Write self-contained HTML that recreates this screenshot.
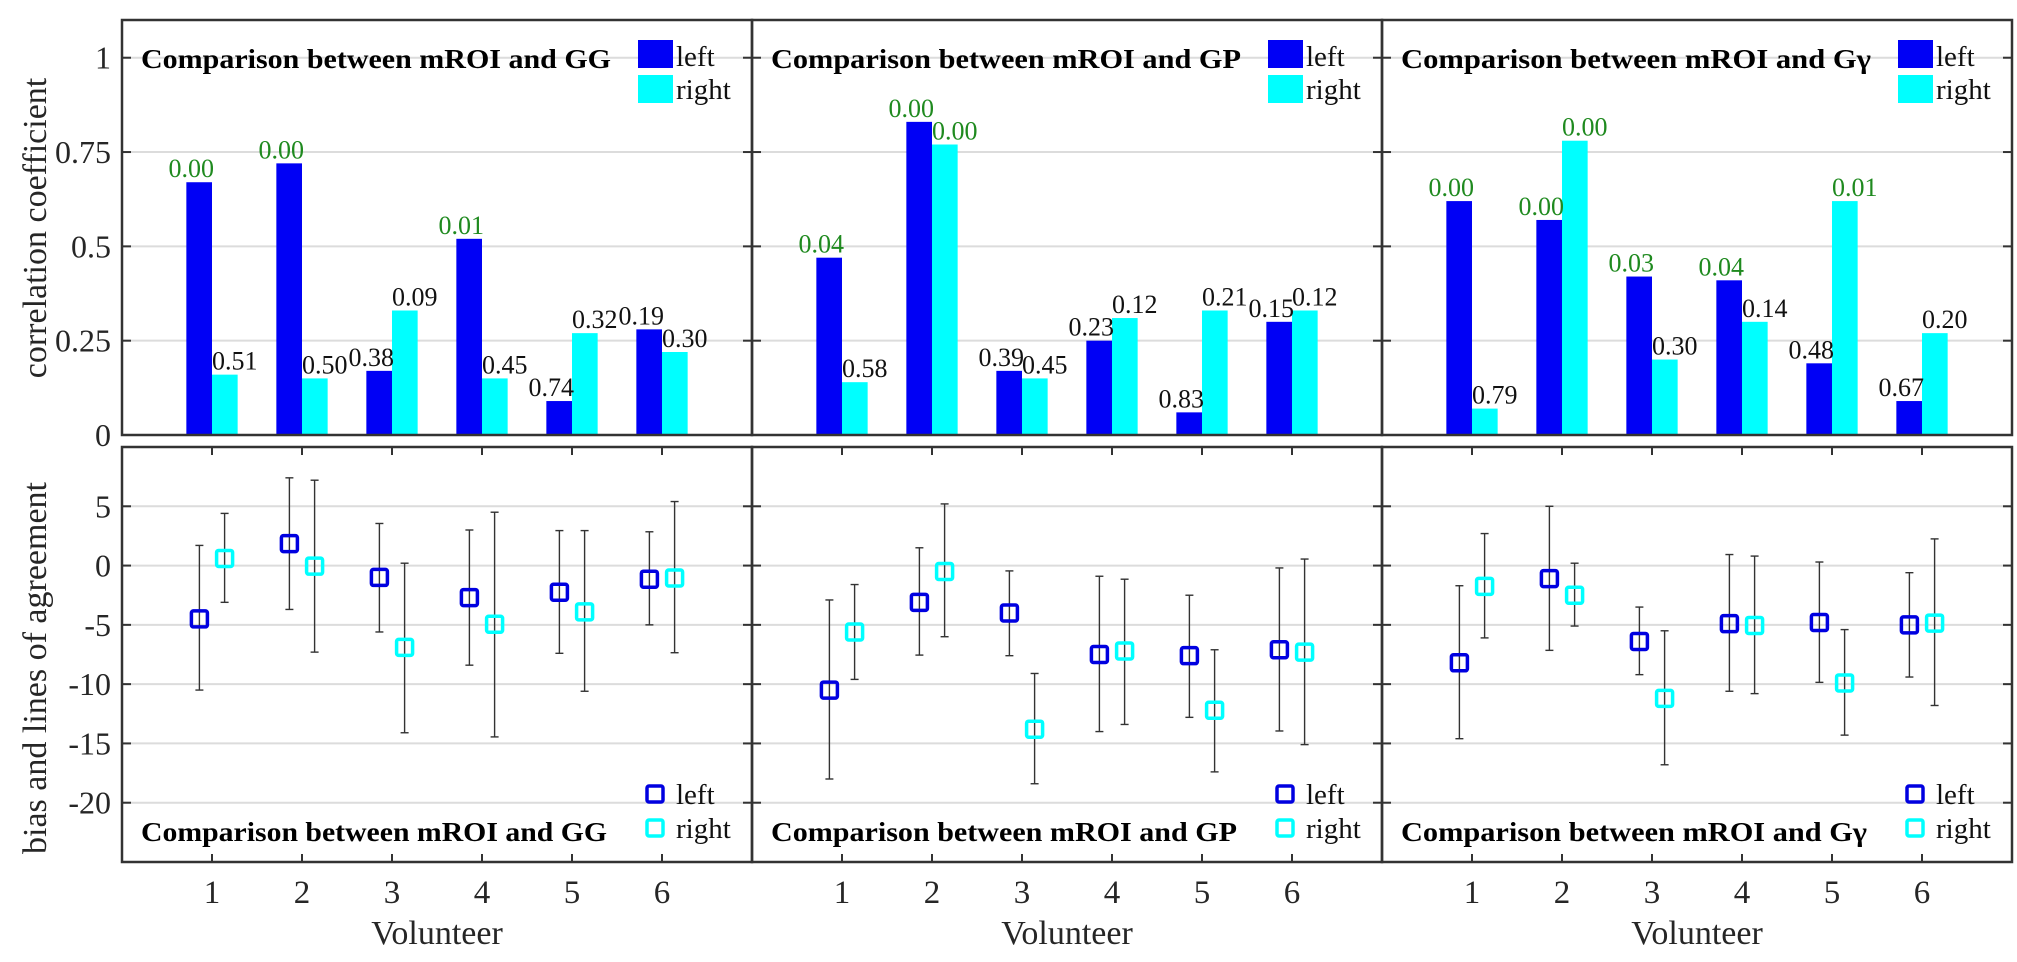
<!DOCTYPE html>
<html><head><meta charset="utf-8"><style>
html,body{margin:0;padding:0;background:#fff}
svg text{font-family:"Liberation Serif","DejaVu Serif",serif}
</style></head><body>
<svg id="fig" xmlns="http://www.w3.org/2000/svg" width="2017" height="957" viewBox="0 0 2017 957"></svg>
<script>
const categories = [1,2,3,4,5,6];
const panelTitles = ["Comparison between mROI and GG","Comparison between mROI and GP","Comparison between mROI and G\u03b3"];
// top: correlation coefficients
const corrLeft = [[0.67,0.72,0.17,0.52,0.09,0.28],[0.47,0.83,0.17,0.25,0.06,0.30],[0.62,0.57,0.42,0.41,0.19,0.09]];
const corrRight = [[0.16,0.15,0.33,0.15,0.27,0.22],[0.14,0.77,0.15,0.31,0.33,0.33],[0.07,0.78,0.20,0.30,0.62,0.27]];
const pLeft = [["0.00","0.00","0.38","0.01","0.74","0.19"],["0.04","0.00","0.39","0.23","0.83","0.15"],["0.00","0.00","0.03","0.04","0.48","0.67"]];
const pRight = [["0.51","0.50","0.09","0.45","0.32","0.30"],["0.58","0.00","0.45","0.12","0.21","0.12"],["0.79","0.00","0.30","0.14","0.01","0.20"]];
// bottom: bias and limits of agreement
const biasLeft = [[-4.5,1.85,-1.0,-2.7,-2.25,-1.15],[-10.5,-3.1,-4.0,-7.5,-7.6,-7.1],[-8.2,-1.1,-6.4,-4.9,-4.8,-5.0]];
const upLeft = [[1.7,7.4,3.55,3.0,2.95,2.85],[-2.9,1.5,-0.45,-0.9,-2.5,-0.2],[-1.7,5.0,-3.5,0.93,0.3,-0.6]];
const loLeft = [[-10.5,-3.7,-5.6,-8.4,-7.4,-5.0],[-18.0,-7.55,-7.6,-14.0,-12.8,-13.95],[-14.6,-7.15,-9.2,-10.6,-9.85,-9.4]];
const biasRight = [[0.6,-0.05,-6.9,-4.95,-3.9,-1.05],[-5.6,-0.5,-13.8,-7.2,-12.2,-7.3],[-1.75,-2.5,-11.2,-5.05,-9.9,-4.85]];
const upRight = [[4.4,7.2,0.2,4.5,2.95,5.4],[-1.6,5.2,-9.1,-1.15,-7.1,0.55],[2.7,0.2,-5.5,0.8,-5.4,2.25]];
const loRight = [[-3.1,-7.3,-14.1,-14.45,-10.6,-7.35],[-9.6,-6.0,-18.4,-13.4,-17.4,-15.1],[-6.1,-5.1,-16.8,-10.8,-14.3,-11.8]];
const topTicks = [0,0.25,0.5,0.75,1];
const topTickLabels = ["0","0.25","0.5","0.75","1"];
const botTicks = [5,0,-5,-10,-15,-20];
const botTickLabels = ["5","0","-5","-10","-15","-20"];

const NS="http://www.w3.org/2000/svg";
const svg=document.getElementById('fig');
function el(tag,attrs,parent,text){const e=document.createElementNS(NS,tag);for(const k in attrs)e.setAttribute(k,attrs[k]);if(text!==undefined)e.textContent=text;(parent||svg).appendChild(e);return e;}

const panelX=[122,752,1382], PW=630;
const TOP0=20, TOP1=435, BOT0=447, BOT1=862;
function xs(p,v){return panelX[p]+v/7*PW;}
function ysTop(v){return TOP1-(v/1.1)*(TOP1-TOP0);}
function ysBot(v){return BOT0+(10-v)/35*(BOT1-BOT0);}
const BLUE="#0000f5", CYAN="#00ffff", GREEN="#1f8a1f", AX="#333";

for(let p=0;p<3;p++){
  const L=panelX[p], R=L+PW;
  // --- top panel
  const gt=el('g',{},svg);
  
  
  topTicks.forEach(t=>{ if(t>0){const g=el('line',{x1:L,x2:R,y1:ysTop(t),y2:ysTop(t),stroke:'#dcdcdc','stroke-width':2},gt);
    }});
  categories.forEach((c,i)=>{
    const bl=el('rect',{x:xs(p,c-0.285),y:ysTop(corrLeft[p][i]),width:xs(p,0.285)-L,height:TOP1-ysTop(corrLeft[p][i]),fill:BLUE},gt);
    
    const br=el('rect',{x:xs(p,c),y:ysTop(corrRight[p][i]),width:xs(p,0.285)-L,height:TOP1-ysTop(corrRight[p][i]),fill:CYAN},gt);
    
    const tl=el('text',{x:xs(p,c)+2,y:ysTop(corrLeft[p][i])-5,'text-anchor':'end','font-size':26,fill:parseFloat(pLeft[p][i])<0.05?GREEN:'#111'},gt,pLeft[p][i]);
    
    const tr=el('text',{x:xs(p,c),y:ysTop(corrRight[p][i])-5,'text-anchor':'start','font-size':26,fill:parseFloat(pRight[p][i])<0.05?GREEN:'#111'},gt,pRight[p][i]);
    
  });
  topTicks.forEach(t=>{el('line',{x1:L,x2:L+9,y1:ysTop(t),y2:ysTop(t),stroke:AX,'stroke-width':2},gt);el('line',{x1:R-9,x2:R,y1:ysTop(t),y2:ysTop(t),stroke:AX,'stroke-width':2},gt);});
  const bt=el('rect',{x:L,y:TOP0,width:PW,height:TOP1-TOP0,fill:'none',stroke:AX,'stroke-width':2.5},gt);
  
  const tt=el('text',{x:L+19,y:68,'font-size':27,'font-weight':'bold',fill:'#000',textLength:470,lengthAdjust:'spacingAndGlyphs'},gt,panelTitles[p]);
  
  const lg=el('g',{},gt);
  
  el('rect',{x:L+516,y:40,width:35,height:28,fill:BLUE},lg);
  el('rect',{x:L+516,y:75,width:35,height:28,fill:CYAN},lg);
  el('text',{x:L+554,y:66,'font-size':29,fill:'#111'},lg,'left');
  el('text',{x:L+554,y:99,'font-size':29,fill:'#111'},lg,'right');
  if(p===0){topTicks.forEach((t,k)=>{const tx=el('text',{x:111,y:ysTop(t)+11,'text-anchor':'end','font-size':32,fill:'#262626'},svg,topTickLabels[k]);
    });}

  // --- bottom panel
  const gb=el('g',{},svg);
  
  
  botTicks.forEach(t=>{const g=el('line',{x1:L,x2:R,y1:ysBot(t),y2:ysBot(t),stroke:'#dcdcdc','stroke-width':2},gb);
    });
  categories.forEach((c,i)=>{
    [[c-0.14,biasLeft,upLeft,loLeft,'#0000e0','left'],[c+0.14,biasRight,upRight,loRight,CYAN,'right']].forEach(s=>{
      const x=xs(p,s[0]);
      const eb=el('g',{stroke:'#333','stroke-width':1.4},gb);
      
      el('line',{x1:x,x2:x,y1:ysBot(s[2][p][i]),y2:ysBot(s[3][p][i])},eb);
      el('line',{x1:x-4,x2:x+4,y1:ysBot(s[2][p][i]),y2:ysBot(s[2][p][i])},eb);
      el('line',{x1:x-4,x2:x+4,y1:ysBot(s[3][p][i]),y2:ysBot(s[3][p][i])},eb);
      const m=el('rect',{x:x-8,y:ysBot(s[1][p][i])-8,width:16,height:16,fill:'none',stroke:s[4],'stroke-width':3.5,rx:2},gb);
      
    });
    el('line',{x1:xs(p,c),x2:xs(p,c),y1:BOT0,y2:BOT0+8,stroke:AX,'stroke-width':2},gb);
    el('line',{x1:xs(p,c),x2:xs(p,c),y1:BOT1-8,y2:BOT1,stroke:AX,'stroke-width':2},gb);
    const xl=el('text',{x:xs(p,c),y:903,'text-anchor':'middle','font-size':33,fill:'#262626'},gb,String(c));
    
  });
  botTicks.forEach(t=>{el('line',{x1:L,x2:L+9,y1:ysBot(t),y2:ysBot(t),stroke:AX,'stroke-width':2},gb);el('line',{x1:R-9,x2:R,y1:ysBot(t),y2:ysBot(t),stroke:AX,'stroke-width':2},gb);});
  const bb=el('rect',{x:L,y:BOT0,width:PW,height:BOT1-BOT0,fill:'none',stroke:AX,'stroke-width':2.5},gb);
  
  const bt2=el('text',{x:L+19,y:841,'font-size':27,'font-weight':'bold',fill:'#000',textLength:466,lengthAdjust:'spacingAndGlyphs'},gb,panelTitles[p]);
  
  const lg2=el('g',{},gb);
  
  el('rect',{x:L+525,y:786,width:16,height:16,fill:'none',stroke:'#0000e0','stroke-width':3.5,rx:2},lg2);
  el('rect',{x:L+525,y:820,width:16,height:16,fill:'none',stroke:CYAN,'stroke-width':3.5,rx:2},lg2);
  el('text',{x:L+554,y:804,'font-size':29,fill:'#111'},lg2,'left');
  el('text',{x:L+554,y:838,'font-size':29,fill:'#111'},lg2,'right');
  const vx=el('text',{x:L+PW/2,y:944,'text-anchor':'middle','font-size':34,fill:'#262626'},gb,'Volunteer');
  
  if(p===0){botTicks.forEach((t,k)=>{const tx=el('text',{x:111,y:ysBot(t)+11,'text-anchor':'end','font-size':32,fill:'#262626'},svg,botTickLabels[k]);
    });}
}
const yl1=el('text',{x:0,y:0,transform:'translate(46,228) rotate(-90)','text-anchor':'middle','font-size':34,fill:'#262626'},svg,'correlation coefficient');

const yl2=el('text',{x:0,y:0,transform:'translate(46,668) rotate(-90)','text-anchor':'middle','font-size':34,fill:'#262626'},svg,'bias and lines of agreement');

</script>
</body></html>
